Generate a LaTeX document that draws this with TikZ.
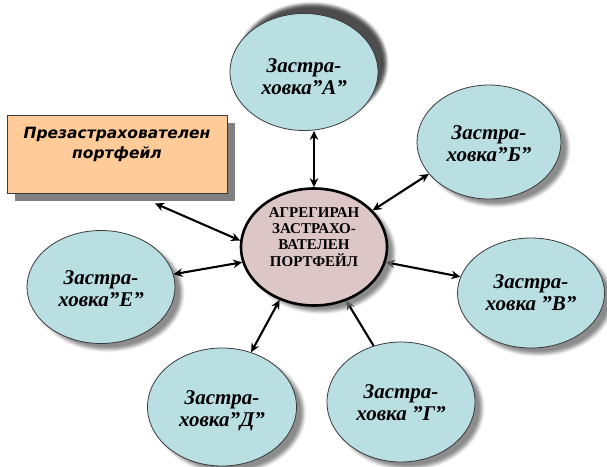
\documentclass[tikz,border=0pt]{standalone}
\usepackage{fontspec}
\setmainfont{Liberation Serif}
\newfontfamily\serf{Liberation Serif}
\newfontfamily\boxfont{DejaVu Sans}
\usetikzlibrary{shapes.geometric,arrows.meta,shadows,shadows.blur}
\definecolor{ellfill}{HTML}{B9DFE3}
\definecolor{ellline}{HTML}{3A3A3A}
\definecolor{cenfill}{HTML}{DCC6C6}
\definecolor{boxfill}{HTML}{FFCC99}
\definecolor{boxshadow}{HTML}{808080}
\definecolor{tipgray}{HTML}{555555}
\newcommand{\mytxt}[2]{\raisebox{#1}[\height][\depth]{\begin{tabular}{@{}c@{}}#2\end{tabular}}}
\begin{document}
\begin{tikzpicture}[x=1pt,y=-1pt,
  ins/.style={ellipse, draw=ellline, line width=0.8pt, fill=ellfill,
    minimum width=148pt, minimum height=116pt, inner sep=0pt,
    font=\serf\fontsize{21}{22}\selectfont\bfseries\itshape},
  shd/.style={blur shadow={shadow xshift=7pt, shadow yshift=-6pt,
    shadow blur radius=3pt, shadow opacity=45}},
  cen/.style={ellipse, draw=black, line width=2.6pt, fill=cenfill,
    minimum width=146pt, minimum height=117pt, inner sep=0pt,
    font=\serf\fontsize{15}{16}\selectfont\bfseries},
  pbox/.style={rectangle, draw=ellline, line width=0.8pt, fill=boxfill,
    minimum width=220pt, minimum height=78pt, inner sep=0pt,
    font=\boxfont\fontsize{15.5}{20}\selectfont\bfseries\itshape,
    drop shadow={shadow xshift=8pt, shadow yshift=-8pt, fill=boxshadow, opacity=1}},
  conn/.style={line width=2.1pt, black},
  tp/.tip={Stealth[length=9pt,width=8.5pt]},
  tpg/.tip={Stealth[length=9pt,width=8.5pt,color=tipgray]}
]
\useasboundingbox (0,0) rectangle (607,466);

\node[pbox] (box) at (117,154) {\mytxt{10pt}{Презастрахователен\\портфейл}};

\node[ins, shd, blur shadow={shadow yshift=9pt, shadow xshift=8pt}, minimum height=117pt] (A) at (304,72) {\mytxt{-7pt}{Застра-\\ховка”А”}};
\node[ins, shd, minimum width=144pt, minimum height=114pt] (B) at (489,142) {\mytxt{-4pt}{Застра-\\ховка”Б”}};
\node[ins, shd, minimum width=147pt, minimum height=110pt] (V) at (531,293) {\mytxt{-2pt}{Застра-\\ховка ”В”}};
\node[ins, shd, minimum height=120pt] (G) at (401,402) {\mytxt{-3pt}{Застра-\\ховка ”Г”}};
\node[ins, shd, minimum width=149pt, minimum height=118pt] (D) at (222,407) {\mytxt{-4pt}{Застра-\\ховка”Д”}};
\node[ins, shd, minimum height=113pt] (E) at (101,287) {\mytxt{-4pt}{Застра-\\ховка”Е”}};

\node[cen, shd] (C) at (314,247) {\mytxt{8pt}{АГРЕГИРАН\\ЗАСТРАХО-\\ВАТЕЛЕН\\ПОРТФЕЙЛ}};

\draw[conn, tp-tp] (C.north) -- (C.north |- A.south);
\draw[conn, tp-tp] (C.32) -- (B.208.7);
\draw[conn, tpg-tp] (C.-12) -- (V.167);
\draw[conn, -tpg] (G.116) -- (C.-59.5);
\draw[conn, tp-tp] (C.237.5) -- (D.62);
\draw[conn, tp-tp] (C.192) -- (E.10.7);
\draw[conn, tp-tp] (C.175) -- ([shift={(38,10)}]box.south);
\end{tikzpicture}
\end{document}
